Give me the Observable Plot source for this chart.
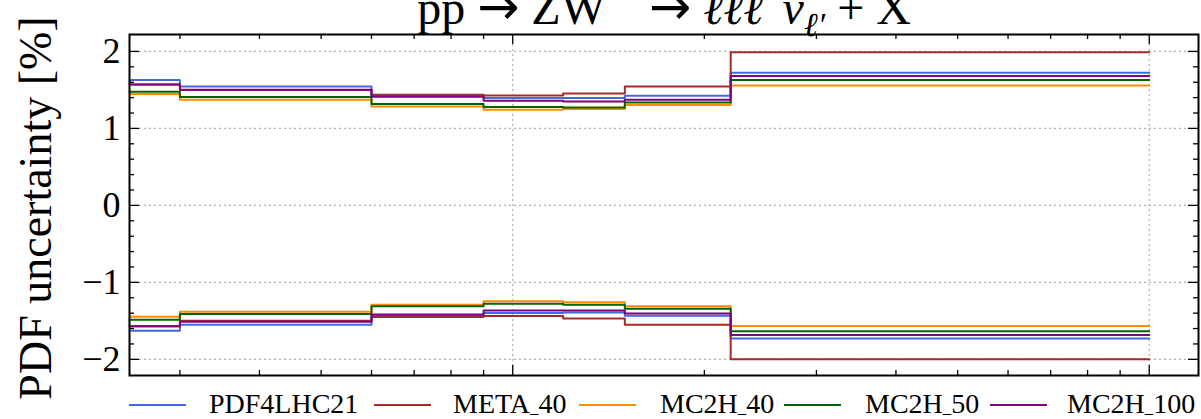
<!DOCTYPE html>
<html><head><meta charset="utf-8">
<script src="https://cdn.jsdelivr.net/npm/d3@7"></script>
<script src="https://cdn.jsdelivr.net/npm/@observablehq/plot@0.6"></script>
<style>
body{margin:0;background:#fff;}
#wrap{position:relative;width:1201px;height:419px;overflow:hidden;font-family:"Liberation Serif",serif;background:#fff;}
#leg{position:absolute;top:383px;left:0;width:1201px;height:36px;}
.sw{position:absolute;top:21px;height:2px;width:57px;}
.lt{position:absolute;top:3px;font-size:28px;line-height:36px;white-space:nowrap;color:#000;}
.us{font-size:0.6em;}
</style></head><body><div id="wrap"></div>
<script>
// bin edges (log x axis)
const binEdges = [25, 30, 60, 90, 120, 150, 220, 1000];
const seriesNames = ["PDF4LHC21", "META_40", "MC2H_40", "MC2H_50", "MC2H_100"];
const seriesColors = ["#4169e1", "#a52a2a", "#ff8c00", "#006400", "#800080"];

const pdf4lhc21Up   = [1.63, 1.545, 1.42, 1.395, 1.395, 1.425, 1.723];
const pdf4lhc21Down = [-1.63, -1.55, -1.43, -1.398, -1.39, -1.433, -1.73];
const meta40Up      = [1.57, 1.50, 1.437, 1.429, 1.455, 1.545, 1.99];
const meta40Down    = [-1.57, -1.50, -1.45, -1.437, -1.468, -1.55, -2.0];
const mc2h40Up      = [1.446, 1.372, 1.286, 1.243, 1.251, 1.303, 1.558];
const mc2h40Down    = [-1.446, -1.381, -1.29, -1.247, -1.26, -1.31, -1.567];
const mc2h50Up      = [1.476, 1.407, 1.316, 1.277, 1.273, 1.338, 1.628];
const mc2h50Down    = [-1.485, -1.411, -1.31, -1.277, -1.29, -1.342, -1.636];
const mc2h100Up     = [1.571, 1.502, 1.411, 1.36, 1.351, 1.372, 1.68];
const mc2h100Down   = [-1.571, -1.511, -1.416, -1.364, -1.364, -1.403, -1.684];

const xMajorTicks = [100, 1000];
const xMinorTicks = [30, 40, 50, 60, 70, 80, 90, 200, 300, 400, 500, 600, 700, 800, 900];
const yMajorTicks = [-2, -1, 0, 1, 2];
const yMinorTicks = [-1.8, -1.6, -1.4, -1.2, -0.8, -0.6, -0.4, -0.2, 0.2, 0.4, 0.6, 0.8, 1.2, 1.4, 1.6, 1.8];
const yLabel = "PDF uncertainty [%]";
const titleText = "pp → ZW− → ℓℓℓ′ ν̄ℓ′ + X";

const seriesUp = [pdf4lhc21Up, meta40Up, mc2h40Up, mc2h50Up, mc2h100Up];
const seriesDown = [pdf4lhc21Down, meta40Down, mc2h40Down, mc2h50Down, mc2h100Down];

const rows = [];
seriesNames.forEach((s, k) => {
  [["up", seriesUp[k]], ["down", seriesDown[k]]].forEach(([band, vals]) => {
    vals.forEach((v, i) => rows.push({x: binEdges[i], y: v, s, band}));
    rows.push({x: binEdges[binEdges.length - 1], y: vals[vals.length - 1], s, band});
  });
});

const W = 1201, H = 383, mL = 129, mR = 3, mT = 34, mB = 8;
const fw = W - mL - mR, fh = H - mT - mB;
const FONT = "Liberation Serif, serif";
const tk = {stroke: "black", strokeWidth: 1.3};
const fmt = d => d < 0 ? "\u2212" + (-d) : String(d);
const grid = {stroke: "#b0b0b0", strokeWidth: 1.2, strokeDasharray: "2,3"};
const TF = 48;

const plot = Plot.plot({
  width: W, height: H,
  marginLeft: mL, marginRight: mR, marginTop: mT, marginBottom: mB,
  style: {fontFamily: FONT, background: "white", overflow: "visible"},
  x: {type: "log", domain: [25, 1195], axis: null},
  y: {domain: [-2.21, 2.22], axis: null},
  color: {domain: seriesNames, range: seriesColors},
  marks: [
    Plot.ruleY(yMajorTicks, {y: d => d, ...grid}),
    Plot.ruleX(xMajorTicks, {x: d => d, ...grid}),
    Plot.line(rows, {x: "x", y: "y", z: d => d.s + d.band, stroke: "s", curve: "step-after", strokeWidth: 2}),
    // inward ticks on all four sides
    Plot.tickY(yMajorTicks, {y: d => d, insetRight: fw - 10, ...tk}),
    Plot.tickY(yMinorTicks, {y: d => d, insetRight: fw - 5, ...tk}),
    Plot.tickY(yMajorTicks, {y: d => d, insetLeft: fw - 10, ...tk}),
    Plot.tickY(yMinorTicks, {y: d => d, insetLeft: fw - 5, ...tk}),
    Plot.tickX(xMajorTicks, {x: d => d, insetTop: fh - 10, ...tk}),
    Plot.tickX(xMinorTicks, {x: d => d, insetTop: fh - 5, ...tk}),
    Plot.tickX(xMajorTicks, {x: d => d, insetBottom: fh - 10, ...tk}),
    Plot.tickX(xMinorTicks, {x: d => d, insetBottom: fh - 5, ...tk}),
    Plot.frame({stroke: "black", strokeWidth: 2}),
    Plot.text(yMajorTicks, {y: d => d, text: fmt, frameAnchor: "left", textAnchor: "end", dx: -9, fontSize: 36, fill: "black"}),
    Plot.text([yLabel], {text: d => d, frameAnchor: "left", rotate: -90, dx: -79, dy: 3, lineAnchor: "bottom", textAnchor: "middle", fontSize: 46, fill: "black"}),
    Plot.text([titleText], {text: d => d, frameAnchor: "top", lineAnchor: "bottom", dy: -11, textAnchor: "middle", fontSize: TF, fill: "black"})
  ]
});

// rich formatting of the title (super/subscripts, long arrows)
d3.select(plot).selectAll("text").filter(function() { return this.textContent === titleText; }).each(function() {
  const t = d3.select(this);
  t.text(null);
  const sup = 0.55 * TF, sub = 0.25 * TF;
  const arrow = () => t.append("tspan").attr("font-family", "DejaVu Sans").attr("font-size", 1.05 * TF).text("→");
  t.append("tspan").text("pp ");
  arrow();
  t.append("tspan").text(" ZW");
  t.append("tspan").attr("font-size", 0.7 * TF).attr("dy", -sup).text("−");
  t.append("tspan").attr("dy", sup).text("  ");
  arrow();
  t.append("tspan").attr("font-style", "italic").text(" ℓℓℓ");
  t.append("tspan").attr("font-size", 0.7 * TF).attr("dy", -sup).text("′");
  t.append("tspan").attr("dy", sup).text(" ");
  t.append("tspan").attr("font-style", "italic").text("ν̄");
  t.append("tspan").attr("font-size", 0.7 * TF).attr("font-style", "italic").attr("dy", sub).text("ℓ′");
  t.append("tspan").attr("dy", -sub).text(" + X");
});

const wrap = document.getElementById("wrap");
wrap.appendChild(plot);

// legend below the plot
const legendSwatchX = [129, 374, 579, 784, 990];
const legendTextX = [209, 453, 660, 865, 1067];
const leg = document.createElement("div");
leg.id = "leg";
seriesNames.forEach((s, i) => {
  const sw = document.createElement("div");
  sw.className = "sw";
  sw.style.left = legendSwatchX[i] + "px";
  sw.style.background = seriesColors[i];
  leg.appendChild(sw);
  const lt = document.createElement("div");
  lt.className = "lt";
  lt.style.left = legendTextX[i] + "px";
  const parts = s.split("_");
  lt.appendChild(document.createTextNode(parts[0]));
  if (parts.length > 1) {
    const us = document.createElement("span");
    us.className = "us";
    us.textContent = "_";
    lt.appendChild(us);
    lt.appendChild(document.createTextNode(parts[1]));
  }
  leg.appendChild(lt);
});
wrap.appendChild(leg);
</script></body></html>
